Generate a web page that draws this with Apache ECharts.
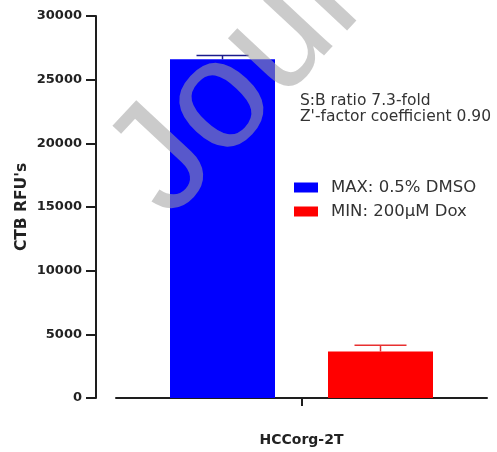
<!DOCTYPE html>
<html>
<head>
<meta charset="utf-8">
<script src="https://cdn.jsdelivr.net/npm/echarts@6/dist/echarts.min.js"></script>
<style>
html,body{margin:0;padding:0;background:#fff;}
#chart{width:497px;height:452px;}
</style>
</head>
<body>
<div id="chart"></div>
<script>
// ---- data ----
const categories = ['HCCorg-2T'];
const seriesNames = ['MAX: 0.5% DMSO', 'MIN: 200\u03bcM Dox'];
const maxValues = [26600];
const maxErrUpper = [26900];
const minValues = [3650];
const minErrUpper = [4150];
const yTickLabels = [0, 5000, 10000, 15000, 20000, 25000, 30000];
const annotationLines = ['S:B ratio 7.3-fold', "Z'-factor coefficient 0.90"];
const yAxisTitle = "CTB RFU's";
const watermarkText = 'Journal Pre-proof';

// ---- style constants ----
const BAR_W = 105;
const BAR_GAP = 53;
const FONT = 'DejaVu Sans';
const AXIS_COLOR = '#1e1e1e';

const chart = echarts.init(document.getElementById('chart'), null, {renderer: 'canvas'});

function errorRender(params, api) {
  const idx = api.value(0);
  const mean = api.value(1);
  const upper = api.value(2);
  const side = api.value(3);
  const off = side * (BAR_W + BAR_GAP) / 2;
  const p0 = api.coord([idx, mean]);
  const p1 = api.coord([idx, upper]);
  const x = p0[0] + off;
  const half = 26;
  const color = side < 0 ? '#1c1c8c' : '#e83030';
  return {
    type: 'group',
    children: [
      {type: 'line', shape: {x1: x, y1: p0[1], x2: x, y2: p1[1]}, style: {stroke: color, lineWidth: 1.5}},
      {type: 'line', shape: {x1: x - half, y1: p1[1], x2: x + half, y2: p1[1]}, style: {stroke: color, lineWidth: 1.5}}
    ]
  };
}

const option = {
  animation: false,
  backgroundColor: '#ffffff',
  grid: {left: 116, right: 10, top: 16, bottom: 54, containLabel: false},
  legend: {
    data: seriesNames,
    orient: 'vertical',
    left: 294,
    top: 179,
    itemWidth: 24,
    itemHeight: 10,
    itemGap: 7,
    icon: 'rect',
    padding: 0,
    textStyle: {fontFamily: FONT, fontSize: 16.5, color: '#333', padding: [0, 0, 0, 8]}
  },
  xAxis: {
    type: 'category',
    data: categories,
    offset: 22,
    axisLine: {show: true, lineStyle: {color: AXIS_COLOR, width: 2}},
    axisTick: {show: true, alignWithLabel: true, length: 8, lineStyle: {color: AXIS_COLOR, width: 2}},
    axisLabel: {fontFamily: FONT, fontWeight: 'bold', fontSize: 14, color: '#222', margin: 13},
    splitLine: {show: false}
  },
  yAxis: {
    type: 'value',
    min: yTickLabels[0],
    max: yTickLabels[yTickLabels.length - 1],
    interval: yTickLabels[1] - yTickLabels[0],
    offset: 20,
    axisLine: {show: true, lineStyle: {color: AXIS_COLOR, width: 2}},
    axisTick: {show: true, length: 10, lineStyle: {color: AXIS_COLOR, width: 2}},
    axisLabel: {
      fontFamily: FONT, fontWeight: 'bold', fontSize: 13, color: '#222', margin: 14,
      formatter: function (v) { return String(v); }
    },
    splitLine: {show: false},
    name: yAxisTitle,
    nameLocation: 'middle',
    nameGap: 66,
    nameMoveOverlap: false,
    nameTextStyle: {fontFamily: FONT, fontWeight: 'bold', fontSize: 15.5, color: '#222'}
  },
  series: [
    {
      name: seriesNames[0], type: 'bar', data: maxValues,
      barWidth: BAR_W, barGap: (BAR_GAP / BAR_W * 100) + '%',
      itemStyle: {color: '#0000ff'}
    },
    {
      name: seriesNames[1], type: 'bar', data: minValues,
      barWidth: BAR_W,
      itemStyle: {color: '#ff0000'}
    },
    {
      type: 'custom',
      renderItem: errorRender,
      encode: {x: 0, y: [1, 2]},
      data: [
        [0, maxValues[0], maxErrUpper[0], -1],
        [0, minValues[0], minErrUpper[0], 1]
      ],
      z: 5
    }
  ],
  graphic: [
    {
      type: 'text',
      left: 300,
      top: 93,
      style: {
        text: annotationLines.join('\n'),
        fontFamily: FONT,
        fontSize: 15.5,
        lineHeight: 16,
        fill: '#333'
      }
    },
    {
      type: 'text',
      x: 138,
      y: 192,
      rotation: 47 * Math.PI / 180,
      z: 100,
      silent: true,
      style: {
        text: watermarkText,
        fontFamily: 'Liberation Sans',
        fontSize: 155,
        fill: 'rgba(160,160,160,0.55)',
        align: 'left',
        verticalAlign: 'middle'
      }
    }
  ]
};

chart.setOption(option);
</script>
</body>
</html>
